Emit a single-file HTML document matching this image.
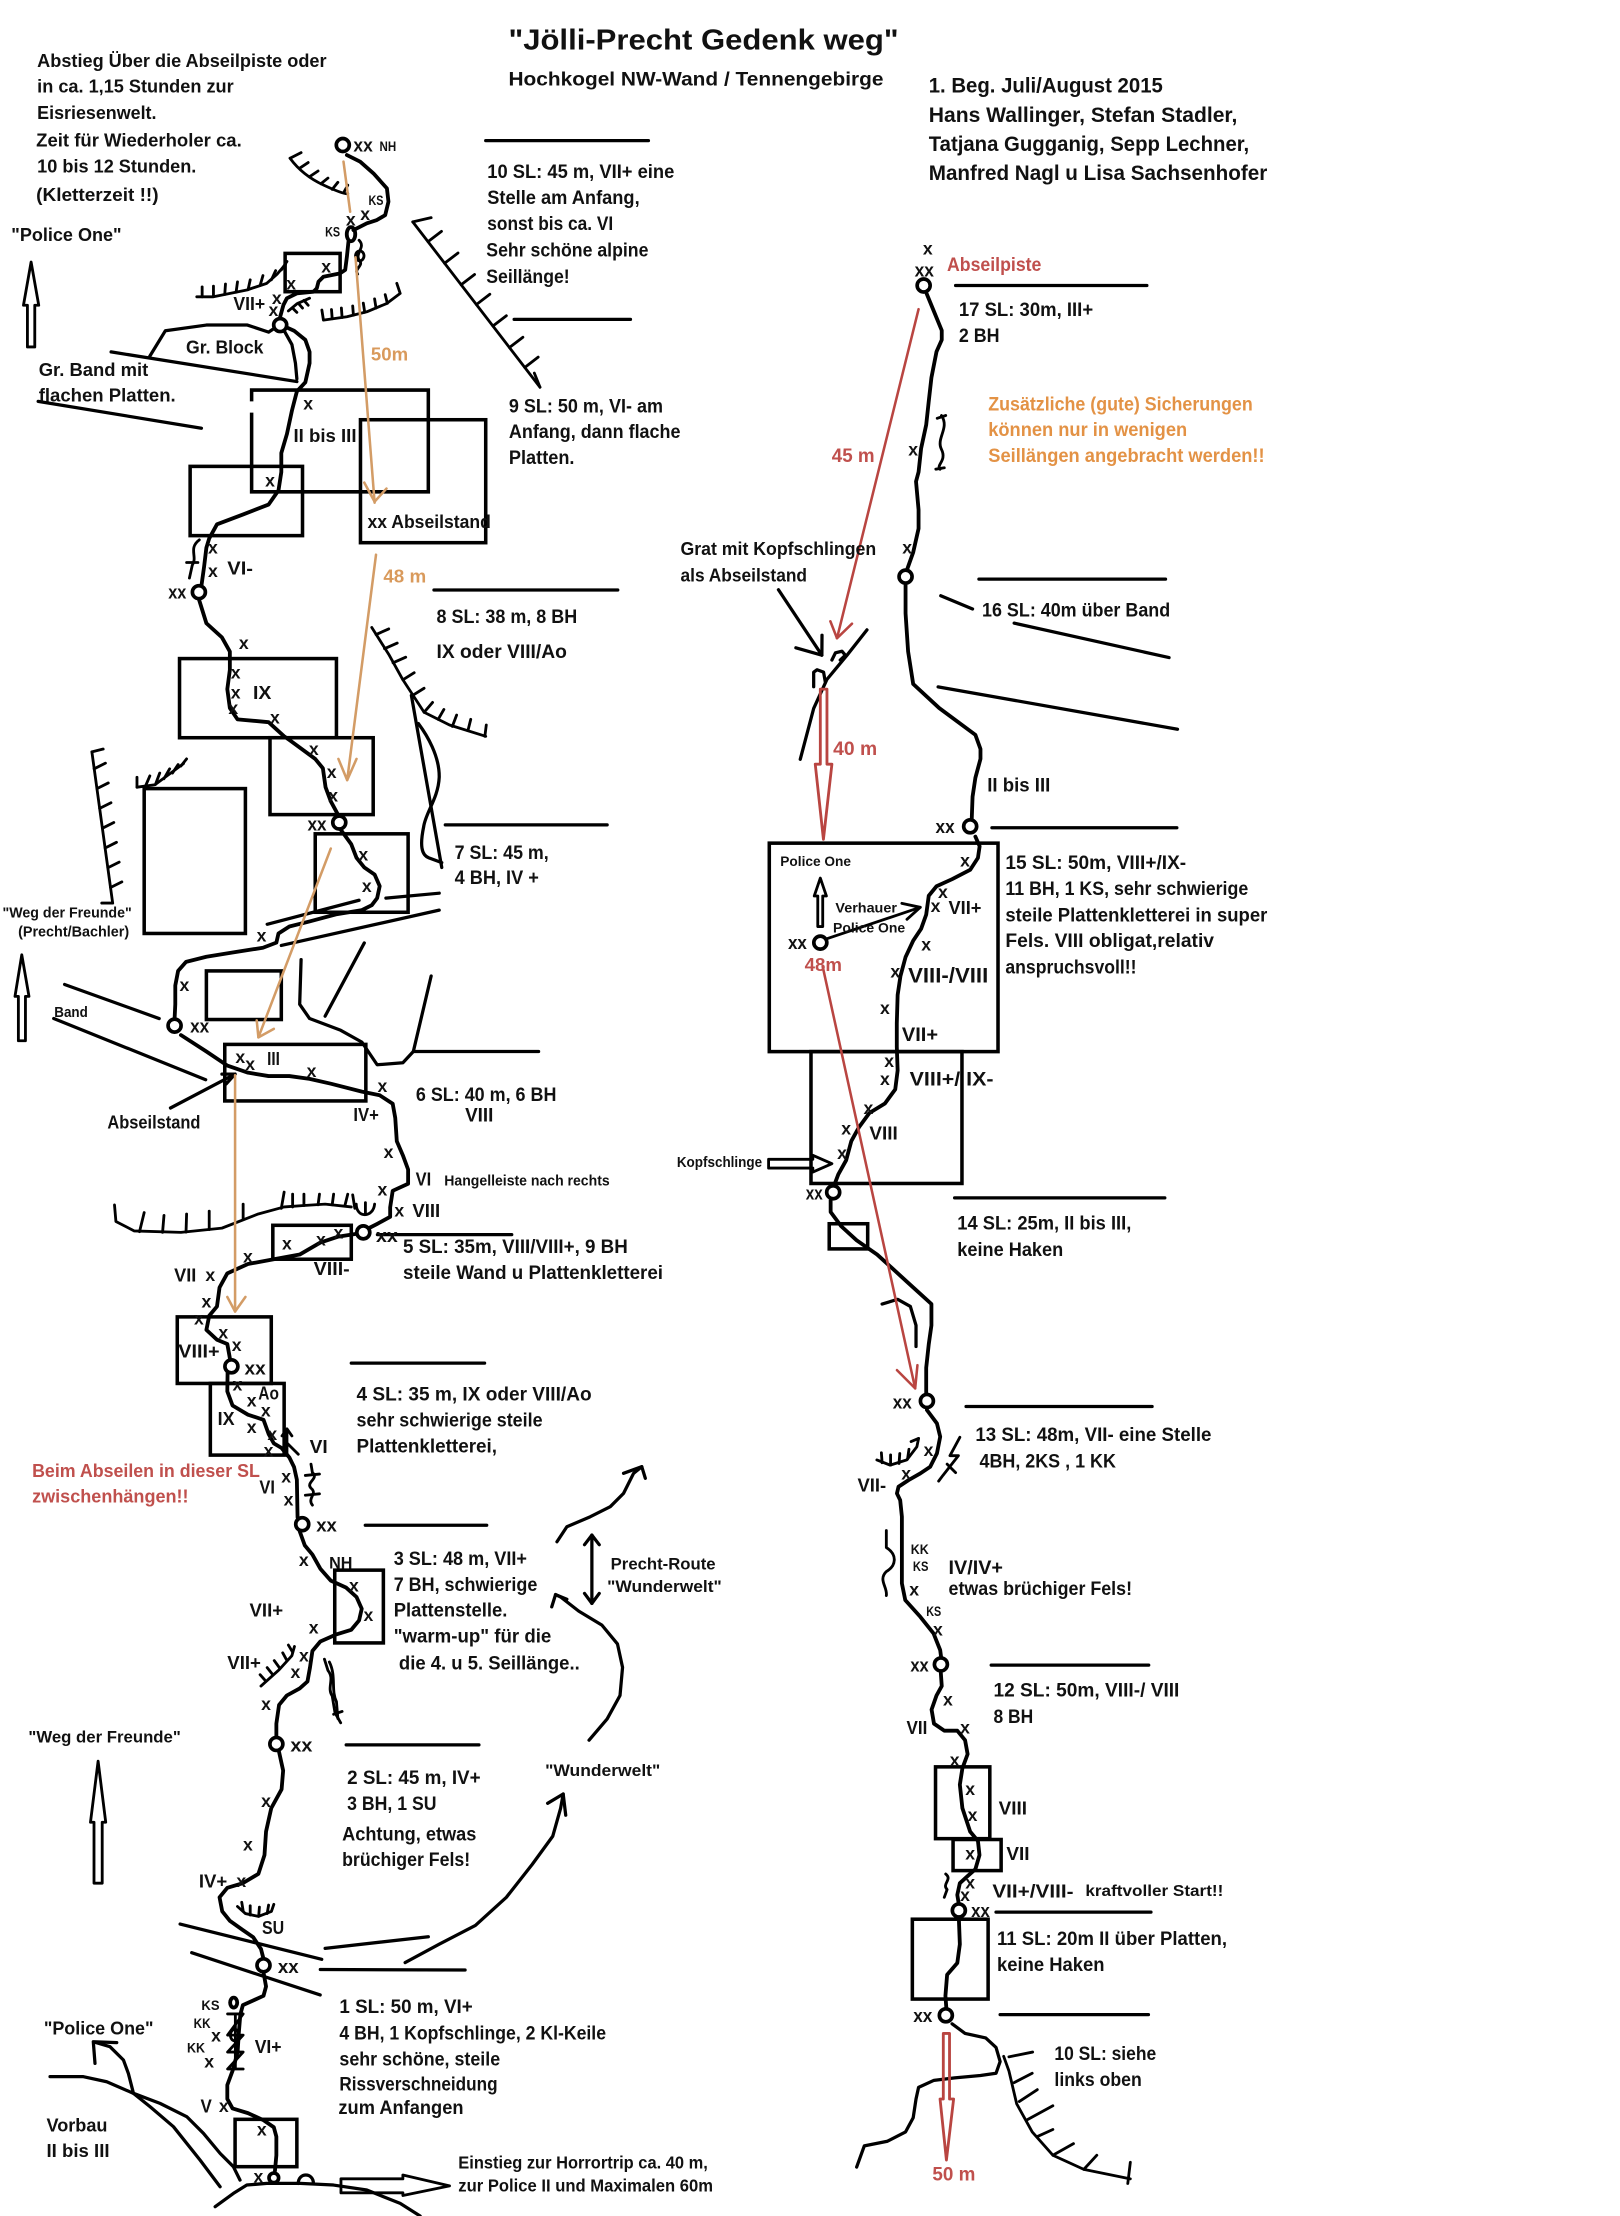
<!DOCTYPE html>
<html><head><meta charset="utf-8"><title>Jölli-Precht Gedenkweg</title>
<style>
html,body{margin:0;padding:0;background:#fff;}
svg{display:block;}
text{font-family:"Liberation Sans",sans-serif;font-weight:bold;fill:#111;dominant-baseline:central;}
.b{font-size:13.5px}
.m{font-size:13px}
.h{font-size:15px}
.s{font-size:10.5px}
.k{font-size:9.5px}
.x{font-size:12.5px;text-anchor:middle}
.r{fill:#c0504d}
.o{fill:#d99a5c}
.w{fill:#e39245}
.l{fill:none;stroke:#000;stroke-width:2.7;stroke-linejoin:round;stroke-linecap:round}
.t{fill:none;stroke:#000;stroke-width:2.3;stroke-linecap:round;stroke-linejoin:round}
.n{fill:none;stroke:#000;stroke-width:2;stroke-linecap:round;stroke-linejoin:round}
.bx{fill:none;stroke:#000;stroke-width:2.5}
.st{fill:#fff;stroke:#000;stroke-width:2.6}
.oa{fill:none;stroke:#d39c66;stroke-width:1.8;stroke-linecap:round;stroke-linejoin:round}
.ra{fill:none;stroke:#b94541;stroke-width:1.8;stroke-linecap:round;stroke-linejoin:round}
</style></head>
<body>
<svg xmlns="http://www.w3.org/2000/svg" width="1620" height="2216" viewBox="0 0 1146 1568" preserveAspectRatio="none">
<rect x="0" y="0" width="1146" height="1568" fill="#fff"/>

<!-- ===== Dividers ===== -->
<g class="t">
<line x1="343.6" y1="99.5" x2="458.7" y2="99.5"/>
<line x1="363.7" y1="226" x2="446" y2="226"/>
<line x1="307" y1="417.5" x2="437" y2="417.5"/>
<line x1="315" y1="583.7" x2="429.5" y2="583.7"/>
<line x1="292.4" y1="744" x2="381" y2="744"/>
<line x1="267" y1="873.6" x2="362" y2="873.6"/>
<line x1="248.5" y1="964.5" x2="342.8" y2="964.5"/>
<line x1="258.4" y1="1079.2" x2="344.3" y2="1079.2"/>
<line x1="244.9" y1="1234.6" x2="338.8" y2="1234.6"/>
<line x1="226.6" y1="1393.6" x2="329" y2="1393.9"/>
<line x1="676" y1="202" x2="811.3" y2="202"/>
<line x1="692.5" y1="409.8" x2="824.5" y2="409.8"/>
<line x1="701.7" y1="585.7" x2="832.5" y2="585.7"/>
<line x1="675.3" y1="847.6" x2="824" y2="847.6"/>
<line x1="683.4" y1="995.2" x2="815" y2="995.2"/>
<line x1="701.2" y1="1178.2" x2="812.6" y2="1178.2"/>
<line x1="704.6" y1="1353" x2="814.2" y2="1353"/>
<line x1="707.5" y1="1425.5" x2="812.4" y2="1425.5"/>
</g>

<!-- ===== Band / misc lines ===== -->
<g class="t">
<line x1="78.6" y1="249" x2="210" y2="270"/>
<line x1="27" y1="284" x2="142.5" y2="303"/>
<line x1="189" y1="654" x2="254" y2="637"/>
<line x1="273" y1="635.5" x2="310.7" y2="632"/>
<line x1="199" y1="669" x2="310.7" y2="644"/>
<line x1="45.7" y1="696.6" x2="112.6" y2="720.7"/>
<line x1="38" y1="720.7" x2="145.5" y2="764"/>
<line x1="665.5" y1="421.5" x2="688" y2="430.9"/>
<line x1="717.4" y1="440.9" x2="827" y2="465.3"/>
<line x1="663.6" y1="486" x2="833" y2="516"/>
<line x1="127.4" y1="1361.4" x2="227.6" y2="1386.4"/>
<line x1="135.6" y1="1381.7" x2="226.5" y2="1411.6"/>
<line x1="230" y1="1378.6" x2="303" y2="1370.4"/>
<!-- Abseilstand arrow -->
<line x1="120.6" y1="784" x2="166.3" y2="760"/>
<polyline points="157,760 166.3,760 160,767"/>
<!-- Gr. Block -->
<polyline points="106,252 117,234 146,230 175,230 190,235 196,231"/>
<polyline points="201,234 206.5,243.8 209,257 210,268"/>
<!-- lines right of IX -->
<line x1="291" y1="492" x2="312.5" y2="613.8"/>
<path d="M296,512 C302,520 311,535 310.7,550 C310,565 301,575 299.7,585 C297,598 298,605 303.4,607 L312.5,610.4"/>
<polyline points="213,679 212,710.6 219,720.7 241,729 256,737.4 266.8,753.4 285,752 292.4,744 305,690.6"/>
<line x1="230" y1="719" x2="257.7" y2="667.2"/>
<!-- Grat -->
<polyline points="566.1,537.3 575.6,501.3 585,480.7 599.2,463.6 613.3,445.7"/>
<polyline points="575.6,485.9 575.6,475.6 578,473.9 582.6,475.6 583.8,482.4"/>
<polyline points="588.5,467 591,461.9 595.6,460.8 598,463.6 594.4,467"/>
<line x1="550.7" y1="417.3" x2="581.4" y2="463.6"/>
<polyline points="563,458.4 581.4,463.6 581.5,449.5"/>
<!-- hook right of route 14 -->
<polyline points="624,922.7 635,919.4 644,924.4 648,937.8 648,952.8"/>
<!-- bottom ground & lines -->
<polyline points="152.2,1561.4 165.1,1552 174.6,1546.1 188.7,1544.9 212.3,1544.9 235.9,1546.1 259.5,1549.6 283.1,1559.1 297.2,1568"/>
<path d="M211,1545 C211,1537 221.7,1537 221.7,1545"/>
<polyline points="35.4,1469.4 59,1469.4 75.5,1473 94.4,1481.2 113.2,1488.3 132.1,1497.7 143.9,1509.5 155.7,1523.7 165.1,1533.1 169.8,1542.6"/>
<polyline points="155.7,1547.3 141.5,1528.4 122.7,1504.8 106.2,1490.7 94.4,1481.2 90.8,1467.1 87.3,1457.6 77.8,1448.2 67,1445"/>
<polyline points="67.2,1460 66,1444.7 82.6,1445.3"/>
<!-- curved arrows Wunderwelt / Precht -->
<polyline points="286.6,1388.7 310.7,1375.7 336.3,1362.4 358.2,1342.5 376.5,1319.2 391,1299.3 396.6,1279.4 398.4,1269.4"/>
<polyline points="387.4,1276 398.4,1269.4 400.2,1284.4"/>
<polyline points="416.7,1231.3 429.5,1216.3 438.6,1199.7 440.4,1179.8 436.8,1163.2 425.8,1149.9 409.4,1140 396.6,1130 393,1128.3"/>
<polyline points="390.3,1137 393,1128.3 401,1131.6"/>
<polyline points="394,1090.9 401,1080.3 417.6,1073.2 431.7,1066.1 441.1,1056.7 448.2,1042.5 454,1037.8"/>
<polyline points="441.1,1042.5 454,1037.8 456.5,1046"/>
<line x1="418.7" y1="1086.2" x2="418.7" y2="1134.5"/>
<polyline points="413.5,1093 418.7,1086.2 423.9,1093"/>
<polyline points="413.5,1127.5 418.7,1134.5 423.9,1127.5"/>
<!-- right bottom ground -->
<polyline points="673.5,1432 682.7,1438.8 697.3,1442 704.6,1448.7 707.5,1458.7 704.6,1467 693.6,1468.6 675.3,1470.3 660.7,1472 649.8,1477 648,1485.2 646,1498.5 640.6,1508.5 627.8,1515.1 611.4,1518.4 606,1533.4"/>
</g>

<!-- ===== Combs (overhangs) ===== -->
<g class="n">
<path d="M205.2,112 Q214,124 228.8,130.9 T246,137"/>
<line x1="205.2" y1="112" x2="213" y2="108"/>
<line x1="212" y1="119" x2="218" y2="115"/><line x1="219" y1="125" x2="225" y2="121"/><line x1="227" y1="130" x2="232" y2="126"/><line x1="235" y1="134" x2="239" y2="129"/><line x1="243" y1="136.5" x2="246" y2="131"/>
<polyline points="139.2,210 151,210 174.6,205.2 188.7,200.5 196,194 202,187"/>
<line x1="143" y1="210" x2="143" y2="203"/><line x1="151" y1="209.8" x2="151" y2="202.5"/><line x1="159" y1="208.3" x2="159.5" y2="201"/><line x1="167" y1="206.8" x2="168" y2="199.5"/><line x1="175.5" y1="205" x2="177" y2="198"/><line x1="184" y1="202" x2="186" y2="195"/><line x1="192" y1="198" x2="195" y2="191.5"/><line x1="199" y1="191" x2="203" y2="185"/>
<polyline points="204,220 210,215 219,211"/>
<line x1="207" y1="218" x2="210" y2="221"/><line x1="211" y1="214.5" x2="214" y2="218"/><line x1="215" y1="212.5" x2="218" y2="216"/>
<polyline points="227.7,219.4 228.8,226.5 245.4,224.1 259.5,220.6 273.7,214.7 283.1,207.6 280.7,200.5"/>
<line x1="235" y1="225.5" x2="234.5" y2="219"/><line x1="242" y1="224.6" x2="241.5" y2="218"/><line x1="250" y1="223" x2="249.5" y2="216.5"/><line x1="258" y1="221" x2="257" y2="214.5"/><line x1="266" y1="218" x2="265" y2="211.5"/><line x1="274" y1="214.6" x2="272.5" y2="208.5"/>
<line x1="292" y1="157" x2="382" y2="274"/><line x1="292" y1="157" x2="305" y2="154"/>
<line x1="302.8" y1="171" x2="312.3" y2="163.7"/><line x1="314.5" y1="186.3" x2="324" y2="179"/><line x1="326.2" y1="201.5" x2="335.7" y2="194.2"/><line x1="337" y1="215.5" x2="346.5" y2="208.2"/><line x1="348.7" y1="230.7" x2="358.2" y2="223.4"/><line x1="360.4" y1="245.9" x2="369.9" y2="238.6"/><line x1="371.2" y1="260" x2="380.7" y2="252.7"/><line x1="382" y1="274" x2="378" y2="264"/>
<polyline points="263,444 275,463 285,481 300,504 318,513 343.6,521"/>
<line x1="266" y1="449" x2="275" y2="445"/><line x1="272" y1="459" x2="281" y2="455"/><line x1="278" y1="469" x2="287" y2="465"/><line x1="285" y1="481" x2="293" y2="476"/><line x1="292" y1="492" x2="300" y2="487"/><line x1="300" y1="504" x2="306" y2="497"/><line x1="310" y1="509" x2="314" y2="502"/><line x1="320" y1="514" x2="323" y2="506"/><line x1="331" y1="517" x2="333" y2="509"/><line x1="343" y1="521" x2="344" y2="513"/>
<polyline points="96.9,557 109.6,555.3 129.8,540.3"/>
<line x1="96.9" y1="557" x2="96.9" y2="550"/><line x1="103" y1="556" x2="106" y2="549"/><line x1="110" y1="555" x2="113" y2="547"/><line x1="116" y1="551" x2="120" y2="544"/><line x1="122" y1="547" x2="126" y2="541"/><line x1="128" y1="542" x2="132" y2="537"/>
<line x1="65" y1="532" x2="79.7" y2="639"/>
<line x1="65" y1="532" x2="73" y2="530"/>
<line x1="66.6" y1="544" x2="74.6" y2="540"/><line x1="68.6" y1="558" x2="76.6" y2="554"/><line x1="70.5" y1="572" x2="78.5" y2="568"/><line x1="72.5" y1="586" x2="80.5" y2="582"/><line x1="74.4" y1="600" x2="82.4" y2="596"/><line x1="76.3" y1="614" x2="84.3" y2="610"/><line x1="78.2" y1="628" x2="86.2" y2="624"/><line x1="79.7" y1="639" x2="72" y2="639"/>
<polyline points="81,852.6 82,864.3 95,871 128,872 157,869 182.7,859 201,854 215,853 230,852 248.5,854"/>
<line x1="98.7" y1="871.5" x2="102" y2="858"/><line x1="115" y1="872" x2="116" y2="860"/><line x1="131.6" y1="871.8" x2="132" y2="859"/><line x1="148" y1="870" x2="148" y2="857"/><line x1="172" y1="863" x2="172" y2="852"/><line x1="199" y1="855" x2="201" y2="843.5"/><line x1="207" y1="854" x2="207" y2="845"/><line x1="215" y1="853" x2="215" y2="845"/><line x1="225" y1="852.5" x2="226" y2="845"/><line x1="235" y1="852.5" x2="236" y2="845"/><line x1="244" y1="853" x2="246" y2="845"/><line x1="251" y1="855" x2="249.5" y2="845.5"/>
<path d="M252,852 C252,862 264,862 265,852"/><line x1="258.5" y1="859" x2="258.5" y2="851"/>
<polyline points="184.6,1193 197.4,1181.5 206.5,1171.5 208.3,1165"/>
<line x1="188" y1="1189.5" x2="184" y2="1185"/><line x1="193" y1="1185" x2="189" y2="1180"/><line x1="198" y1="1180.5" x2="194" y2="1175"/><line x1="203" y1="1175" x2="200" y2="1169.5"/><line x1="207" y1="1169" x2="204" y2="1164"/>
<polyline points="168,1349 173.6,1354 182.8,1356 192,1352.5 193.7,1347.5"/>
<line x1="172" y1="1352" x2="171" y2="1346"/><line x1="177" y1="1355" x2="177" y2="1348.5"/><line x1="183" y1="1356" x2="183.5" y2="1349.5"/><line x1="189" y1="1354" x2="190" y2="1348"/>
<polyline points="620.3,1033 629.7,1036.7 641.5,1033 648.6,1023.7 649.8,1017.8"/>
<line x1="624" y1="1035" x2="623.5" y2="1028"/><line x1="630" y1="1036.7" x2="630" y2="1029.5"/><line x1="636" y1="1035.5" x2="636.5" y2="1028.5"/><line x1="642" y1="1032.5" x2="643" y2="1025.5"/><line x1="649.8" y1="1017.8" x2="644.5" y2="1020"/>
<polyline points="710,1455 713.7,1465.3 719.2,1488.6 730.2,1508.5 744.8,1525 766.7,1535 799.6,1541.7"/>
<line x1="799.6" y1="1530" x2="797.8" y2="1545"/>
<line x1="713.7" y1="1455.4" x2="730.5" y2="1452"/><line x1="717.4" y1="1473.6" x2="730.2" y2="1467"/><line x1="721" y1="1487" x2="733.8" y2="1478.6"/><line x1="726.5" y1="1500" x2="744.8" y2="1490"/><line x1="733.8" y1="1511.8" x2="744.8" y2="1506.8"/><line x1="744.8" y1="1525" x2="759.4" y2="1516.8"/><line x1="766.7" y1="1535" x2="775.9" y2="1525"/>
</g>

<!-- ===== Crack symbols ===== -->
<g class="n">
<path d="M254,170 C259,175 251,179 254,184 C258,188 250,190 253,194"/>
<ellipse cx="254.5" cy="181" rx="3" ry="3.5"/>
<path d="M141,382 C133,388 140,394 136,400 L134,409"/><line x1="132" y1="398" x2="140" y2="398"/>
<path d="M666,294 C672,303 662,310 666,318 C670,326 662,329 665,332"/><line x1="663" y1="296" x2="669" y2="294"/><line x1="662" y1="332" x2="668" y2="331"/>
<path d="M679,1017 L672,1030 L678,1030 L667,1044 L664,1048"/><line x1="670" y1="1036" x2="676" y2="1042"/>
<path d="M627,1083 L627,1095 C635,1100 634,1108 627,1112 C621,1118 628,1123 627,1129"/>
<path d="M669,1326 C674,1330 666,1333 670,1337 L668,1342.5"/>
<path d="M220,1036 L221,1042 C226,1046 216,1049 220,1053 C225,1057 217,1060 221,1065"/><line x1="216" y1="1044" x2="226" y2="1043"/><line x1="216" y1="1058" x2="226" y2="1057"/>
<path d="M229.5,1174 L232,1182 C237,1188 231,1194 235,1200 L237,1212 L241,1219"/><path d="M233,1176 C238,1186 234,1196 238,1204 L239,1216"/><line x1="236" y1="1213" x2="242" y2="1211"/>
<path d="M161,1425 L172,1425 L161,1440 L172,1440 L161,1452 L172,1452 L161,1464 L172,1464"/>
<path d="M166.5,1426 L166.5,1463"/>
<ellipse cx="166" cy="1440" rx="3" ry="4"/>
<path d="M203,1030 L203,1012 M199.5,1016 L203,1011 L206.5,1016 M203,1021 L211,1029"/>
</g>

<!-- ===== Boxes ===== -->
<g class="bx">
<rect x="201.7" y="179.3" width="38.9" height="27.1"/>
<polyline points="178,284 178,276 303,276 303,348 178,348 178,292"/>
<rect x="255" y="297" width="88.6" height="87"/>
<rect x="134.5" y="330" width="79.5" height="49"/>
<rect x="127" y="466" width="111" height="56"/>
<rect x="191" y="522" width="73" height="54.4"/>
<rect x="223" y="590" width="65.7" height="55.5"/>
<rect x="102" y="558" width="71.6" height="102.5"/>
<rect x="146" y="687" width="53" height="34.4"/>
<rect x="159" y="739" width="99.8" height="40"/>
<rect x="193" y="867" width="55.5" height="24"/>
<rect x="125.4" y="931.8" width="66.5" height="47.1"/>
<rect x="148.8" y="978.9" width="52.2" height="50.7"/>
<rect x="236.8" y="1111" width="34.4" height="51.5"/>
<rect x="166.3" y="1499.6" width="43.7" height="33.5"/>
<rect x="544.2" y="596.6" width="161.8" height="147.5"/>
<rect x="573.7" y="744.1" width="106.8" height="93.3"/>
<rect x="586.6" y="865.9" width="27.2" height="17.8"/>
<rect x="661.8" y="1250.2" width="38.4" height="50.8"/>
<rect x="674.2" y="1301.6" width="34" height="22"/>
<rect x="645.4" y="1358" width="53.6" height="56.5"/>
</g>

<!-- ===== Routes ===== -->
<g class="l">
<polyline points="245.4,109.7 254.8,114.4 264.2,122.7 273.7,133.3 274.8,142.7 272.5,152.2 266.6,155.7 259.5,158 254.8,160.4 250,162.8"/>
<ellipse cx="248.3" cy="165.7" rx="3" ry="5"/>
<polyline points="246.5,171 245.4,181.6 244.2,191 240.6,193.4 228.8,195.8 225.3,199.3 224.1,204 221.8,206.4 210,207.6 202.9,211.1 200.5,215.8 198.2,224.1 198.2,226"/>
<polyline points="199,230 208,234 216,240.5 219,249 219,257 216,270.5 210,277 206.5,290.6 203,307 199,320.6 199,334 197,347 190,357 172,364 153.5,371 148,381 146,387.5 144.4,400.8 142.5,414.5"/>
<polyline points="140.7,424 146,441 157,451 162.6,461 162.6,474 160.8,487.6 162.6,501 168,509 190,511 201,521 204.7,523.6 223,537 228.4,543.6 230.3,557 234,567 239.4,577"/>
<polyline points="241,587 248.5,597.4 252.2,607 257.7,613.8 265,618.8 268.6,627 266.8,635.5 263,640.5 256,644 237.6,647 219,652 204.7,655.6 197,660.5 195.5,667 186,670.6 164.5,674 146,677 131.6,680.6 126,687 124,697.3 124,710.6 123.5,721"/>
<polyline points="128,732.4 146,744 160.8,754 175.4,759 190,761.4 204.7,761.4 219,763.4 234,766.8 256,772.4 268.6,775 277.8,781 279.6,791 280.7,807.5 285,817.5 288.7,827.5 288.7,837.6 277.8,842.6 276,854.3 276,861 266.8,866 261,869"/>
<polyline points="252.5,873 239.4,875 226.6,879.2 212,887.7 193.7,891 175.4,894.4 160.8,901 155.3,911 153.5,924.4 148,931 146,941 153.5,948 160.8,951 162.6,961"/>
<polyline points="161,971 160.8,984.5 164.5,994.5 175.4,1001 186.4,1004.6 190,1014.6 193.7,1021.3 199.2,1024.6 204.7,1031.3 208,1038 210,1047 210.5,1073.6"/>
<polyline points="212,1083.5 215.6,1093.5 221,1100 226.6,1110 234,1118.4 244.9,1123.4 252.2,1130 255.9,1138.3 254,1146.6 248.5,1153.2 237.6,1156.6 226.6,1161.5 221,1168.2 219.3,1179.8 217.5,1189.8 212,1194.7 202.9,1199.7 197.4,1206.4 195.5,1219.6 195.5,1229.5"/>
<polyline points="197.4,1239.6 200.3,1252.8 199.2,1266.1 191.9,1279.4 188.2,1296 187.1,1312.6 182.8,1325.9 171.8,1332.5 160.8,1335.8 155.3,1342.5 157.2,1352.4 162.6,1359.1 171.8,1365.7 179.1,1370.7 184.6,1379 186.4,1386"/>
<polyline points="186.4,1395.6 188.2,1405.6 186.4,1412.2 179.1,1415.5 171.8,1418.8 170,1425.5 168.9,1438.8 168.1,1452 164.5,1465.3 160.8,1475.3 160.8,1485.2 164.5,1491.9 175.4,1495.2 186.4,1500.2 193.7,1505.2 195.5,1511.8 195.5,1525.1 194.5,1536"/>
<ellipse cx="165.3" cy="1417" rx="2.5" ry="3.5"/>
<polyline points="655.2,207 660.7,220.4 666.2,233.8 666.2,240.5 662.5,248.8 658.9,267.2 657,284 655.2,300.6 651.6,317.3 649.8,334 648,340.7 649.8,360.7 649.8,374 646,390.8 641.5,403.5"/>
<polyline points="640.6,412.5 640.6,434 642.4,461 646,484 664.4,501 690,520 693.6,530 693.6,537 690,550.3 688,563.7 687.4,580"/>
<polyline points="690,592 693,598.8 691.8,607 686.3,615.5 673.5,622.1 662.5,627.1 657,633.8 655.2,647.2 651.6,657.2 646,665.6 640.6,677.2 637,690.6 635,704 634.4,724 634.4,740.7 635,757.4 633.3,770.8 626,780.8 615,787.5 607.7,797.5 602.2,807.5 598.6,820.9 593,831 590,839"/>
<polyline points="587.6,849.2 587.6,857.6 595,867.6 606,877.6 620.5,887.7 631.5,897.7 642.4,907.7 649.8,914.4 658.9,922.7 658.9,937.8 657,951.2 655.2,967.8 655.2,986.5"/>
<polyline points="655.7,997.7 662.8,1007.2 665.1,1016.6 662.8,1028.4 658,1037.9 651,1042.6 642.7,1047.3 635.6,1052 634.5,1056.7 636.8,1061.5 638,1073.2 638,1096.8 638,1120.4 640.4,1132.2 651,1144 660.4,1155.8 665.1,1167.6 665.8,1173"/>
<polyline points="665.5,1183 666.2,1193 662.5,1199.7 659,1209.7 660.7,1219.6 668,1224.6 677.2,1224.6 682.7,1231.3 684.5,1241.2 680.8,1251.2 679,1262.8 680.8,1279.4 686.3,1296 691.8,1302.6 692.9,1312.6 690,1322.6 684.5,1327.5 679,1332.5 677.2,1340.8 678.3,1347.5"/>
<polyline points="678.3,1357.4 679,1375.7 677.2,1389 670,1397.3 668.8,1412.2 669.5,1421.5"/>
</g>

<!-- ===== Stations ===== -->
<g class="st">
<circle cx="242.5" cy="102.6" r="4.6"/>
<circle cx="198.2" cy="230" r="4.6"/>
<circle cx="140.7" cy="419" r="4.6"/>
<circle cx="240" cy="582" r="4.6"/>
<circle cx="123.5" cy="725.7" r="4.6"/>
<circle cx="257" cy="872" r="4.6"/>
<circle cx="163.7" cy="966.8" r="4.6"/>
<circle cx="213.8" cy="1078.5" r="4.6"/>
<circle cx="195.5" cy="1234" r="4.6"/>
<circle cx="186.4" cy="1390.6" r="4.6"/>
<circle cx="193.7" cy="1541" r="3.4"/>
<circle cx="653.4" cy="202" r="4.6"/>
<circle cx="640.6" cy="408" r="4.6"/>
<circle cx="686.3" cy="584.7" r="4.6"/>
<circle cx="580.3" cy="667" r="4.6"/>
<circle cx="589.4" cy="843.6" r="4.6"/>
<circle cx="655.7" cy="991.3" r="4.6"/>
<circle cx="665.6" cy="1177.7" r="4.6"/>
<circle cx="678.3" cy="1351.8" r="4.6"/>
<circle cx="669.1" cy="1426" r="4.6"/>
</g>

<!-- ===== Hollow arrows ===== -->
<g class="n">
<path d="M22,185.4 L27.4,216 L24.6,216 L24.6,245.5 L19.4,245.5 L19.4,216 L16.6,216 Z"/>
<path d="M15.4,675.6 L20.5,705 L18,705 L18,736.4 L13,736.4 L13,705 L10.6,705 Z"/>
<path d="M69.4,1246.2 L74.8,1289.4 L72.3,1289.4 L72.3,1332.5 L66.5,1332.5 L66.5,1289.4 L64,1289.4 Z"/>
<path d="M580.3,621.3 L584.6,634 L582,634 L582,655.6 L578.5,655.6 L578.5,634 L576,634 Z"/>
<path d="M543.7,820.3 L575,820.3 L575,817.5 L588.5,823.4 L575,829.3 L575,826.5 L543.7,826.5 Z"/>
<path d="M241.2,1541.7 L285,1541.7 L285,1539 L318,1546.7 L285,1553.5 L285,1551.6 L241.2,1551.6 Z"/>
<line x1="585" y1="664.2" x2="651" y2="642"/>
<polyline points="638,639.2 651,642 641.6,650.5"/>
</g>

<!-- ===== Orange rappel arrows ===== -->
<g class="oa">
<line x1="243" y1="114.4" x2="247.7" y2="149.8"/>
<line x1="251.5" y1="182" x2="265" y2="355.7"/>
<polyline points="257.7,341.5 265,355 273.4,345.7"/>
<line x1="266" y1="392.5" x2="245.6" y2="552"/>
<polyline points="239.4,537 245.6,552 252.2,537"/>
<line x1="234" y1="600.4" x2="182.8" y2="734"/>
<polyline points="181.6,722 182.8,734 193.7,728"/>
<line x1="166.3" y1="760.8" x2="166.3" y2="928"/>
<polyline points="160.8,917.7 166.3,928 173.6,917.7"/>
</g>

<!-- ===== Red rappel arrows ===== -->
<g class="ra">
<line x1="649.8" y1="218.8" x2="592.1" y2="451.6"/>
<polyline points="587.4,439.6 592.1,451.6 602.7,441.3"/>
<path d="M580.3,487.6 L580.3,540.7 L576.7,540.7 L582.5,593.9 L588.5,540.7 L585,540.7 L585,487.6 Z" stroke-width="2"/>
<line x1="582" y1="684" x2="647.4" y2="982.4"/>
<polyline points="634.5,969.5 647.4,982.4 649,966"/>
<path d="M667.3,1438.8 L667.3,1485.2 L665,1485.2 L669.5,1528.4 L674.6,1485.2 L671.7,1485.2 L671.7,1438.8 Z" stroke-width="2"/>
</g>

<!-- ===== Headings ===== -->
<text x="359.7" y="28.5" style="font-size:20.5px" textLength="276" lengthAdjust="spacingAndGlyphs">"Jölli-Precht Gedenk weg"</text>
<text x="359.7" y="56.5" class="b" textLength="265.3" lengthAdjust="spacingAndGlyphs">Hochkogel NW-Wand / Tennengebirge</text>

<text x="26.3" y="42.7" class="m" textLength="204.7" lengthAdjust="spacingAndGlyphs">Abstieg Über die Abseilpiste oder</text>
<text x="26.3" y="61" class="m" textLength="139" lengthAdjust="spacingAndGlyphs">in ca. 1,15 Stunden zur</text>
<text x="26.3" y="79.5" class="m" textLength="84.4" lengthAdjust="spacingAndGlyphs">Eisriesenwelt.</text>
<text x="25.6" y="99" class="m" textLength="145.4" lengthAdjust="spacingAndGlyphs">Zeit für Wiederholer ca.</text>
<text x="26.3" y="117.6" class="m" textLength="112.6" lengthAdjust="spacingAndGlyphs">10 bis 12 Stunden.</text>
<text x="25.6" y="137.6" class="m" textLength="86.6" lengthAdjust="spacingAndGlyphs">(Kletterzeit !!)</text>
<text x="8" y="165.8" class="m" textLength="78" lengthAdjust="spacingAndGlyphs">"Police One"</text>

<text x="657" y="61" class="h" textLength="165.6" lengthAdjust="spacingAndGlyphs">1. Beg. Juli/August 2015</text>
<text x="657" y="81.8" class="h" textLength="218.3" lengthAdjust="spacingAndGlyphs">Hans Wallinger, Stefan Stadler,</text>
<text x="657" y="102.3" class="h" textLength="226.7" lengthAdjust="spacingAndGlyphs">Tatjana Gugganig, Sepp Lechner,</text>
<text x="657" y="122.9" class="h" textLength="239.5" lengthAdjust="spacingAndGlyphs">Manfred Nagl u Lisa Sachsenhofer</text>

<!-- ===== Left column pitch descriptions ===== -->
<text x="344.7" y="122" class="b" textLength="132.3" lengthAdjust="spacingAndGlyphs">10 SL: 45 m, VII+ eine</text>
<text x="344.7" y="140.3" class="b" textLength="107.8" lengthAdjust="spacingAndGlyphs">Stelle am Anfang,</text>
<text x="344.7" y="158.7" class="b" textLength="89.1" lengthAdjust="spacingAndGlyphs">sonst bis ca. VI</text>
<text x="344" y="177.7" class="b" textLength="114.7" lengthAdjust="spacingAndGlyphs">Sehr schöne alpine</text>
<text x="344" y="196.4" class="b" textLength="59" lengthAdjust="spacingAndGlyphs">Seillänge!</text>

<text x="360" y="288" class="b" textLength="109" lengthAdjust="spacingAndGlyphs">9 SL: 50 m, VI- am</text>
<text x="360" y="306" class="b" textLength="121.4" lengthAdjust="spacingAndGlyphs">Anfang, dann flache</text>
<text x="360" y="324.5" class="b" textLength="46.4" lengthAdjust="spacingAndGlyphs">Platten.</text>

<text x="308.8" y="437" class="b" textLength="99.5" lengthAdjust="spacingAndGlyphs">8 SL: 38 m, 8 BH</text>
<text x="308.8" y="461.6" class="b" textLength="92.2" lengthAdjust="spacingAndGlyphs">IX oder VIII/Ao</text>

<text x="321.6" y="603.8" class="b" textLength="66.6" lengthAdjust="spacingAndGlyphs">7 SL: 45 m,</text>
<text x="321.6" y="621.5" class="b" textLength="59.6" lengthAdjust="spacingAndGlyphs">4 BH, IV +</text>

<text x="294.2" y="775" class="b" textLength="99.4" lengthAdjust="spacingAndGlyphs">6 SL: 40 m, 6 BH</text>
<text x="329" y="789.5" class="b" textLength="20" lengthAdjust="spacingAndGlyphs">VIII</text>

<text x="285.1" y="882.6" class="b" textLength="159" lengthAdjust="spacingAndGlyphs">5 SL: 35m, VIII/VIII+, 9 BH</text>
<text x="285.1" y="901" class="b" textLength="183.9" lengthAdjust="spacingAndGlyphs">steile Wand u Plattenkletterei</text>

<text x="252.2" y="987.2" class="b" textLength="166.3" lengthAdjust="spacingAndGlyphs">4 SL: 35 m,  IX oder VIII/Ao</text>
<text x="252.2" y="1005.6" class="b" textLength="131.6" lengthAdjust="spacingAndGlyphs">sehr schwierige steile</text>
<text x="252.2" y="1024" class="b" textLength="99.4" lengthAdjust="spacingAndGlyphs">Plattenkletterei,</text>

<text x="22.7" y="1040.6" class="m r" textLength="161.1" lengthAdjust="spacingAndGlyphs">Beim Abseilen in dieser SL</text>
<text x="22.7" y="1058.6" class="m r" textLength="110.7" lengthAdjust="spacingAndGlyphs">zwischenhängen!!</text>

<text x="278.5" y="1103.4" class="b" textLength="94.3" lengthAdjust="spacingAndGlyphs">3 SL: 48 m, VII+</text>
<text x="278.5" y="1121.7" class="b" textLength="101.6" lengthAdjust="spacingAndGlyphs">7 BH, schwierige</text>
<text x="278.5" y="1140" class="b" textLength="80.4" lengthAdjust="spacingAndGlyphs">Plattenstelle.</text>
<text x="278.5" y="1158.2" class="b" textLength="111.5" lengthAdjust="spacingAndGlyphs">"warm-up" für die</text>
<text x="282.2" y="1177.5" class="b" textLength="127.9" lengthAdjust="spacingAndGlyphs">die 4. u 5. Seillänge..</text>

<text x="432" y="1106.8" style="font-size:12px" textLength="74.2" lengthAdjust="spacingAndGlyphs">Precht-Route</text>
<text x="429.5" y="1122.7" style="font-size:12px" textLength="81.1" lengthAdjust="spacingAndGlyphs">"Wunderwelt"</text>
<text x="20.1" y="1229" style="font-size:12px" textLength="107.8" lengthAdjust="spacingAndGlyphs">"Weg der Freunde"</text>
<text x="385.6" y="1252.8" style="font-size:12px" textLength="81.5" lengthAdjust="spacingAndGlyphs">"Wunderwelt"</text>

<text x="245.6" y="1258.5" class="b" textLength="94.4" lengthAdjust="spacingAndGlyphs">2 SL: 45 m,  IV+</text>
<text x="245.6" y="1276.7" class="b" textLength="63.2" lengthAdjust="spacingAndGlyphs">3 BH, 1 SU</text>
<text x="242" y="1298.3" class="b" textLength="95" lengthAdjust="spacingAndGlyphs">Achtung, etwas</text>
<text x="242" y="1316.6" class="b" textLength="90.6" lengthAdjust="spacingAndGlyphs">brüchiger Fels!</text>

<text x="240.1" y="1420.5" class="b" textLength="94.3" lengthAdjust="spacingAndGlyphs">1 SL: 50 m,  VI+</text>
<text x="240.1" y="1439.4" class="b" textLength="188.6" lengthAdjust="spacingAndGlyphs">4 BH, 1 Kopfschlinge, 2 Kl-Keile</text>
<text x="240.1" y="1457.7" class="b" textLength="113.7" lengthAdjust="spacingAndGlyphs">sehr schöne, steile</text>
<text x="240.1" y="1475.3" class="b" textLength="111.9" lengthAdjust="spacingAndGlyphs">Rissverschneidung</text>
<text x="239.4" y="1491.9" class="b" textLength="88.5" lengthAdjust="spacingAndGlyphs">zum Anfangen</text>

<text x="31" y="1434.8" class="m" textLength="77.6" lengthAdjust="spacingAndGlyphs">"Police One"</text>
<text x="32.9" y="1503.5" class="m" textLength="43.1" lengthAdjust="spacingAndGlyphs">Vorbau</text>
<text x="32.9" y="1521.8" class="m" textLength="44.6" lengthAdjust="spacingAndGlyphs">II bis III</text>
<text x="324.2" y="1530" style="font-size:12.5px" textLength="176.5" lengthAdjust="spacingAndGlyphs">Einstieg zur Horrortrip ca. 40 m,</text>
<text x="324.2" y="1546.6" style="font-size:12.5px" textLength="180.2" lengthAdjust="spacingAndGlyphs">zur Police II und Maximalen 60m</text>

<!-- ===== Left column small labels ===== -->
<text x="250" y="102.6" class="m" textLength="13.7" lengthAdjust="spacingAndGlyphs">xx</text>
<text x="268.5" y="103.5" class="k" textLength="11.8" lengthAdjust="spacingAndGlyphs">NH</text>
<text x="260.7" y="142" class="k" textLength="10.6" lengthAdjust="spacingAndGlyphs">KS</text>
<text x="230" y="164" class="k" textLength="10.6" lengthAdjust="spacingAndGlyphs">KS</text>
<text x="165.1" y="214.7" class="m" textLength="22.5" lengthAdjust="spacingAndGlyphs">VII+</text>
<text x="131.6" y="245.5" class="m" textLength="54.8" lengthAdjust="spacingAndGlyphs">Gr. Block</text>
<text x="27.4" y="261.5" class="m" textLength="77.5" lengthAdjust="spacingAndGlyphs">Gr. Band mit</text>
<text x="27.4" y="279.6" class="m" textLength="96.9" lengthAdjust="spacingAndGlyphs">flachen Platten.</text>
<text x="262.4" y="250.5" class="m o" textLength="26.3" lengthAdjust="spacingAndGlyphs">50m</text>
<text x="207.6" y="308" class="m" textLength="44.6" lengthAdjust="spacingAndGlyphs">II bis III</text>
<text x="260" y="369" class="m" textLength="87.2" lengthAdjust="spacingAndGlyphs">xx Abseilstand</text>
<text x="271.2" y="407.5" class="m o" textLength="30.3" lengthAdjust="spacingAndGlyphs">48 m</text>
<text x="160.8" y="402" class="m" textLength="18.2" lengthAdjust="spacingAndGlyphs">VI-</text>
<text x="119" y="419" class="m" textLength="12.8" lengthAdjust="spacingAndGlyphs">xx</text>
<text x="179" y="490" class="m" textLength="13" lengthAdjust="spacingAndGlyphs">IX</text>
<text x="217.5" y="583" class="m" textLength="13.5" lengthAdjust="spacingAndGlyphs">xx</text>
<text x="1.8" y="646.5" class="s" textLength="91.4" lengthAdjust="spacingAndGlyphs">"Weg der Freunde"</text>
<text x="12.8" y="660" class="s" textLength="78.6" lengthAdjust="spacingAndGlyphs">(Precht/Bachler)</text>
<text x="134.5" y="726" class="m" textLength="13.5" lengthAdjust="spacingAndGlyphs">xx</text>
<text x="38.4" y="716.7" class="s" textLength="23.7" lengthAdjust="spacingAndGlyphs">Band</text>
<text x="76" y="794" class="m" textLength="65.8" lengthAdjust="spacingAndGlyphs">Abseilstand</text>
<text x="189" y="749" class="m" textLength="9" lengthAdjust="spacingAndGlyphs">III</text>
<text x="250" y="788.5" class="m" textLength="18" lengthAdjust="spacingAndGlyphs">IV+</text>
<text x="294" y="834.2" class="m" textLength="11" lengthAdjust="spacingAndGlyphs">VI</text>
<text x="314.3" y="836" class="s" textLength="117" lengthAdjust="spacingAndGlyphs">Hangelleiste nach rechts</text>
<text x="291.7" y="856.6" class="m" textLength="19.7" lengthAdjust="spacingAndGlyphs">VIII</text>
<text x="266" y="874.3" class="m" textLength="15.4" lengthAdjust="spacingAndGlyphs">xx</text>
<text x="221.9" y="897.7" class="m" textLength="25.5" lengthAdjust="spacingAndGlyphs">VIII-</text>
<text x="123.2" y="902" class="m" textLength="15.7" lengthAdjust="spacingAndGlyphs">VII</text>
<text x="126.1" y="956" class="m" textLength="29.2" lengthAdjust="spacingAndGlyphs">VIII+</text>
<text x="173" y="967.8" class="m" textLength="15" lengthAdjust="spacingAndGlyphs">xx</text>
<text x="182.7" y="985.5" class="m" textLength="14.6" lengthAdjust="spacingAndGlyphs">Ao</text>
<text x="154" y="1003.6" class="m" textLength="12" lengthAdjust="spacingAndGlyphs">IX</text>
<text x="219" y="1023.6" class="m" textLength="12.8" lengthAdjust="spacingAndGlyphs">VI</text>
<text x="183.5" y="1052" class="m" textLength="11" lengthAdjust="spacingAndGlyphs">VI</text>
<text x="223.7" y="1079.2" class="m" textLength="14.6" lengthAdjust="spacingAndGlyphs">xx</text>
<text x="232.8" y="1106" style="font-size:12px" textLength="16.5" lengthAdjust="spacingAndGlyphs">NH</text>
<text x="176.5" y="1139.3" class="m" textLength="23.8" lengthAdjust="spacingAndGlyphs">VII+</text>
<text x="160.8" y="1176.5" class="m" textLength="23.8" lengthAdjust="spacingAndGlyphs">VII+</text>
<text x="205.4" y="1234.6" class="m" textLength="15.6" lengthAdjust="spacingAndGlyphs">xx</text>
<text x="140.7" y="1330.9" class="m" textLength="20.1" lengthAdjust="spacingAndGlyphs">IV+</text>
<text x="185.3" y="1364" class="m" textLength="15.7" lengthAdjust="spacingAndGlyphs">SU</text>
<text x="196.6" y="1391.3" class="m" textLength="14.7" lengthAdjust="spacingAndGlyphs">xx</text>
<text x="142.5" y="1418.8" style="font-size:10px" textLength="12.8" lengthAdjust="spacingAndGlyphs">KS</text>
<text x="137" y="1431.5" style="font-size:10px" textLength="12" lengthAdjust="spacingAndGlyphs">KK</text>
<text x="132.3" y="1448.7" style="font-size:10px" textLength="12.8" lengthAdjust="spacingAndGlyphs">KK</text>
<text x="180.2" y="1448" class="m" textLength="19" lengthAdjust="spacingAndGlyphs">VI+</text>
<text x="141.8" y="1490.2" class="m" textLength="8" lengthAdjust="spacingAndGlyphs">V</text>

<!-- bolts left -->
<g>
<text class="x" x="248.2" y="155.2">x</text><text class="x" x="258.3" y="151.4">x</text>
<text class="x" x="230.7" y="188.7">x</text><text class="x" x="206" y="200.5">x</text>
<text class="x" x="195.8" y="211">x</text><text class="x" x="193.4" y="219.4">x</text>
<text class="x" x="218" y="285.6">x</text><text class="x" x="191" y="340">x</text>
<text class="x" x="150.6" y="387.5">x</text><text class="x" x="150.6" y="404">x</text>
<text class="x" x="172.5" y="455">x</text><text class="x" x="166.7" y="476">x</text>
<text class="x" x="166.7" y="490">x</text><text class="x" x="165" y="501">x</text>
<text class="x" x="194.5" y="507.7">x</text>
<text class="x" x="222" y="530">x</text><text class="x" x="234.6" y="546.3">x</text>
<text class="x" x="235.7" y="563">x</text>
<text class="x" x="257" y="604.8">x</text><text class="x" x="259.5" y="627">x</text>
<text class="x" x="185" y="662">x</text><text class="x" x="130.5" y="697">x</text>
<text class="x" x="170" y="748">x</text><text class="x" x="177" y="752.7">x</text>
<text class="x" x="220.4" y="758">x</text><text class="x" x="270.5" y="768.4">x</text>
<text class="x" x="274.9" y="815">x</text><text class="x" x="270.5" y="841.6">x</text>
<text class="x" x="282.5" y="856.6">x</text>
<text class="x" x="203" y="880">x</text><text class="x" x="227" y="877">x</text>
<text class="x" x="239.4" y="872">x</text><text class="x" x="175.4" y="889">x</text>
<text class="x" x="148.8" y="902">x</text><text class="x" x="146" y="921">x</text>
<text class="x" x="140.7" y="932.8">x</text>
<text class="x" x="158" y="943">x</text><text class="x" x="167.4" y="951.8">x</text>
<text class="x" x="168" y="979.5">x</text><text class="x" x="178" y="991">x</text>
<text class="x" x="188" y="998">x</text><text class="x" x="178" y="1009.6">x</text>
<text class="x" x="192.6" y="1014.6">x</text><text class="x" x="190" y="1026.3">x</text>
<text class="x" x="202.4" y="1044.9">x</text><text class="x" x="204.1" y="1061">x</text>
<text class="x" x="214.9" y="1104">x</text><text class="x" x="250.4" y="1121.7">x</text>
<text class="x" x="260.6" y="1142.6">x</text><text class="x" x="221.9" y="1151.6">x</text>
<text class="x" x="215" y="1171.5">x</text><text class="x" x="209" y="1183">x</text>
<text class="x" x="188.2" y="1205.7">x</text>
<text class="x" x="188.2" y="1274.4">x</text><text class="x" x="175.4" y="1305.3">x</text>
<text class="x" x="170.7" y="1330.9">x</text>
<text class="x" x="152.8" y="1440.4">x</text><text class="x" x="148" y="1458.7">x</text>
<text class="x" x="158.3" y="1490.2">x</text><text class="x" x="185.2" y="1506.7">x</text>
<text class="x" x="182.8" y="1540.2">x</text>
</g>

<!-- ===== Right column ===== -->
<text class="x" x="656.3" y="176">x</text>
<text x="647" y="191" class="m" textLength="13.7" lengthAdjust="spacingAndGlyphs">xx</text>
<text x="669.9" y="188" class="b r" textLength="66.8" lengthAdjust="spacingAndGlyphs">Abseilpiste</text>
<text x="678.3" y="219.8" class="b" textLength="95" lengthAdjust="spacingAndGlyphs">17 SL: 30m, III+</text>
<text x="678.3" y="238" class="b" textLength="28.8" lengthAdjust="spacingAndGlyphs">2 BH</text>
<text x="699.1" y="286.6" class="b w" textLength="187.1" lengthAdjust="spacingAndGlyphs">Zusätzliche (gute) Sicherungen</text>
<text x="699.1" y="304.6" class="b w" textLength="140.7" lengthAdjust="spacingAndGlyphs">können nur in wenigen</text>
<text x="699.1" y="323" class="b w" textLength="195.5" lengthAdjust="spacingAndGlyphs">Seillängen angebracht werden!!</text>
<text class="x" x="646" y="318">x</text>
<text x="588.4" y="323" class="b r" textLength="30.3" lengthAdjust="spacingAndGlyphs">45 m</text>
<text x="481.4" y="388" class="m" textLength="138.4" lengthAdjust="spacingAndGlyphs">Grat mit Kopfschlingen</text>
<text x="481.4" y="407" class="m" textLength="89.5" lengthAdjust="spacingAndGlyphs">als Abseilstand</text>
<text class="x" x="641.7" y="387.4">x</text>
<text x="694.7" y="432.5" class="b" textLength="133.1" lengthAdjust="spacingAndGlyphs">16 SL: 40m über Band</text>
<text x="589.4" y="530.3" class="b r" textLength="31.1" lengthAdjust="spacingAndGlyphs">40 m</text>
<text x="698.4" y="556.3" class="b" textLength="44.6" lengthAdjust="spacingAndGlyphs">II bis III</text>
<text x="661.8" y="584.7" class="m" textLength="13.5" lengthAdjust="spacingAndGlyphs">xx</text>

<text x="552" y="609.3" style="font-size:10px" textLength="50" lengthAdjust="spacingAndGlyphs">Police One</text>
<text x="591" y="642" style="font-size:10px" textLength="43.5" lengthAdjust="spacingAndGlyphs">Verhauer</text>
<text x="589.3" y="656.3" style="font-size:10px" textLength="51" lengthAdjust="spacingAndGlyphs">Police One</text>
<text x="557.4" y="667" class="m" textLength="13.4" lengthAdjust="spacingAndGlyphs">xx</text>
<text x="569.2" y="682.4" class="m r" textLength="26.4" lengthAdjust="spacingAndGlyphs">48m</text>

<text x="711.2" y="611" class="b" textLength="127.9" lengthAdjust="spacingAndGlyphs">15 SL: 50m, VIII+/IX-</text>
<text x="711.2" y="629.5" class="b" textLength="171.8" lengthAdjust="spacingAndGlyphs">11 BH, 1 KS, sehr schwierige</text>
<text x="711.2" y="648" class="b" textLength="185.3" lengthAdjust="spacingAndGlyphs">steile Plattenkletterei in super</text>
<text x="711.2" y="666.2" class="b" textLength="147.6" lengthAdjust="spacingAndGlyphs">Fels. VIII   obligat,relativ</text>
<text x="711.2" y="685" class="b" textLength="92.8" lengthAdjust="spacingAndGlyphs">anspruchsvoll!!</text>

<text x="671" y="642.2" class="m" textLength="23.3" lengthAdjust="spacingAndGlyphs">VII+</text>
<text x="642.4" y="690.6" style="font-size:15px" textLength="56.7" lengthAdjust="spacingAndGlyphs">VIII-/VIII</text>
<text x="638" y="732.4" style="font-size:14px" textLength="25.6" lengthAdjust="spacingAndGlyphs">VII+</text>
<text x="643.5" y="764" style="font-size:14px" textLength="59.3" lengthAdjust="spacingAndGlyphs">VIII+/ IX-</text>
<text x="615" y="801.8" class="m" textLength="20.1" lengthAdjust="spacingAndGlyphs">VIII</text>
<text x="478.8" y="823" class="s" textLength="60.3" lengthAdjust="spacingAndGlyphs">Kopfschlinge</text>
<text x="570" y="844" class="m" textLength="12" lengthAdjust="spacingAndGlyphs">xx</text>

<text x="677.2" y="866" class="b" textLength="123.1" lengthAdjust="spacingAndGlyphs">14 SL: 25m, II bis III,</text>
<text x="677.2" y="884.7" class="b" textLength="74.9" lengthAdjust="spacingAndGlyphs">keine Haken</text>
<text x="631.5" y="992.2" class="m" textLength="13.5" lengthAdjust="spacingAndGlyphs">xx</text>
<text x="690" y="1015.6" class="b" textLength="167" lengthAdjust="spacingAndGlyphs">13 SL: 48m,  VII- eine Stelle</text>
<text x="692.9" y="1034.6" class="b" textLength="96.5" lengthAdjust="spacingAndGlyphs">4BH,  2KS , 1 KK</text>
<text x="606.6" y="1050.8" class="m" textLength="20.3" lengthAdjust="spacingAndGlyphs">VII-</text>
<text x="644.3" y="1096" style="font-size:10px" textLength="12.7" lengthAdjust="spacingAndGlyphs">KK</text>
<text x="645.8" y="1108" style="font-size:10px" textLength="11" lengthAdjust="spacingAndGlyphs">KS</text>
<text x="655.2" y="1140" style="font-size:10px" textLength="10.6" lengthAdjust="spacingAndGlyphs">KS</text>
<text x="671" y="1109.8" class="b" textLength="38.5" lengthAdjust="spacingAndGlyphs">IV/IV+</text>
<text x="671" y="1124.7" class="b" textLength="129.8" lengthAdjust="spacingAndGlyphs">etwas brüchiger Fels!</text>
<text x="644" y="1178" class="m" textLength="13" lengthAdjust="spacingAndGlyphs">xx</text>
<text x="702.8" y="1196.4" class="b" textLength="131.5" lengthAdjust="spacingAndGlyphs">12 SL: 50m, VIII-/ VIII</text>
<text x="702.8" y="1215.3" class="b" textLength="28.1" lengthAdjust="spacingAndGlyphs">8 BH</text>
<text x="641.3" y="1222.3" class="m" textLength="14.7" lengthAdjust="spacingAndGlyphs">VII</text>
<text x="706.4" y="1279.4" class="m" textLength="20.1" lengthAdjust="spacingAndGlyphs">VIII</text>
<text x="711.9" y="1311.6" class="m" textLength="16.4" lengthAdjust="spacingAndGlyphs">VII</text>
<text x="702" y="1338.2" class="m" textLength="57.4" lengthAdjust="spacingAndGlyphs">VII+/VIII-</text>
<text x="767.8" y="1338.5" style="font-size:11px" textLength="97.6" lengthAdjust="spacingAndGlyphs">kraftvoller Start!!</text>
<text x="687" y="1351.8" class="m" textLength="13.2" lengthAdjust="spacingAndGlyphs">xx</text>
<text x="705.3" y="1372.4" class="b" textLength="162.7" lengthAdjust="spacingAndGlyphs">11 SL: 20m II über Platten,</text>
<text x="705.3" y="1390.6" class="b" textLength="76" lengthAdjust="spacingAndGlyphs">keine Haken</text>
<text x="646" y="1426" class="m" textLength="13.6" lengthAdjust="spacingAndGlyphs">xx</text>
<text x="745.9" y="1453.7" class="b" textLength="72" lengthAdjust="spacingAndGlyphs">10 SL: siehe</text>
<text x="745.9" y="1472" class="b" textLength="61.8" lengthAdjust="spacingAndGlyphs">links oben</text>
<text x="659.6" y="1539" class="b r" textLength="30.4" lengthAdjust="spacingAndGlyphs">50 m</text>

<!-- bolts right -->
<g>
<text class="x" x="682.7" y="608.8">x</text><text class="x" x="667" y="631.2">x</text>
<text class="x" x="661.8" y="641.2">x</text><text class="x" x="655.2" y="668.2">x</text>
<text class="x" x="633.3" y="687.3">x</text><text class="x" x="626" y="713.3">x</text>
<text class="x" x="629" y="750.7">x</text><text class="x" x="626" y="763.4">x</text>
<text class="x" x="614.3" y="784.1">x</text><text class="x" x="598.6" y="798.5">x</text>
<text class="x" x="595.7" y="815.8">x</text>
<text class="x" x="656.9" y="1026">x</text><text class="x" x="641" y="1042.6">x</text>
<text class="x" x="646.7" y="1124.7">x</text><text class="x" x="663.5" y="1153">x</text>
<text class="x" x="670.6" y="1202.4">x</text><text class="x" x="682.7" y="1222.3">x</text>
<text class="x" x="675.3" y="1245.5">x</text><text class="x" x="686.3" y="1266">x</text>
<text class="x" x="688" y="1284.4">x</text><text class="x" x="686.3" y="1311.6">x</text>
<text class="x" x="686.3" y="1331.9">x</text><text class="x" x="682.7" y="1340.8">x</text>
</g>
</svg>
</body></html>
